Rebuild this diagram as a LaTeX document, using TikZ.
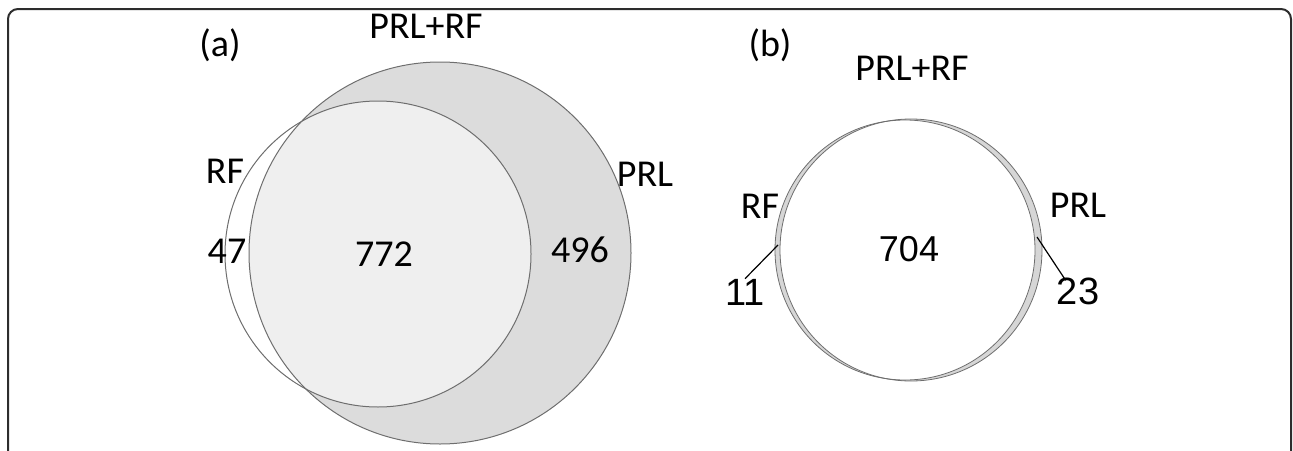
\documentclass[tikz,border=0pt]{standalone}
\usepackage{fontspec}
\setmainfont{Carlito}
\newfontfamily\arialfont{Liberation Sans}
\usepackage{tikz}

\definecolor{vennline}{RGB}{110,110,110}
\definecolor{prlfill}{RGB}{220,220,220}
\definecolor{bothfill}{RGB}{239,239,239}
\definecolor{slivfill}{RGB}{214,214,214}
\definecolor{framecol}{RGB}{45,45,45}

\begin{document}
\begin{tikzpicture}[x=1pt,y=1pt,yscale=-1,xscale=1,
  lbl/.style={inner sep=0pt,font=\fontsize{38}{40}\selectfont},
  num/.style={inner sep=0pt,font=\arialfont\fontsize{36}{40}\selectfont},
  venn/.style={draw=vennline,line width=1pt}]
\useasboundingbox (0,0) rectangle (1293,450);

%Shape: Frame
\draw [color=framecol,line width=2pt,rounded corners=10pt] (8,470) -- (8,9) -- (1291,9) -- (1291,470) ;

%Shape: Circle PRL (a)
\fill [prlfill] (440,253) circle (191pt) ;
%Shape: Circle RF (a)
\fill [white] (378,254) circle (153pt) ;
\begin{scope}
\clip (440,253) circle (191pt) ;
\fill [bothfill] (378,254) circle (153pt) ;
\end{scope}
\draw [venn] (440,253) circle (191pt) ;
\draw [venn] (378,254) circle (153pt) ;

%Shape: Circle RF (b)
\fill [slivfill] (905,250) circle (130pt) ;
%Shape: Circle PRL (b)
\fill [slivfill] (911,250) circle (131pt) ;
\begin{scope}
\clip (905,250) circle (130pt) ;
\fill [white] (911,250) circle (131pt) ;
\end{scope}
\draw [venn,line width=0.8pt] (905,250) circle (130pt) ;
\draw [venn,line width=0.8pt] (911,250) circle (131pt) ;

% Text Node
\node [lbl] (taga) at (220,45) {(a)};
% Text Node
\node [lbl] (bothlbla) at (426,26) {PRL+RF};
% Text Node
\node [lbl] (rflbla) at (225,171) {RF};
% Text Node
\node [lbl] (prllbla) at (645,174) {PRL};
% Text Node
\node [lbl] (rfnuma) at (227,251) {47};
% Text Node
\node [lbl] (bothnuma) at (384,254) {772};
% Text Node
\node [lbl] (prlnuma) at (580,250) {496};

% Text Node
\node [lbl] (tagb) at (770,45) {(b)};
% Text Node
\node [lbl] (bothlblb) at (912,68) {PRL+RF};
% Text Node
\node [lbl] (rflblb) at (760,206) {RF};
% Text Node
\node [lbl] (prllblb) at (1078,205) {PRL};
% Text Node
\node [num] (bothnumb) at (909,249) {704};
% Text Node
\node [num,font=\arialfont\fontsize{38}{40}\selectfont] (rfnumb) at (745,292) {11};
% Text Node
\node [num,font=\arialfont\fontsize{38}{40}\selectfont] (prlnumb) at (1078,291) {23};

%Straight Lines
\coordinate (rftip) at (778,245) ;
\coordinate (prltip) at (1037,237) ;
\draw [line width=1.2pt] (rftip) -- (rfnumb.north) ;
\draw [line width=1.2pt] (prltip) -- ([xshift=9pt,yshift=3pt]prlnumb.north west) ;

\end{tikzpicture}
\end{document}
